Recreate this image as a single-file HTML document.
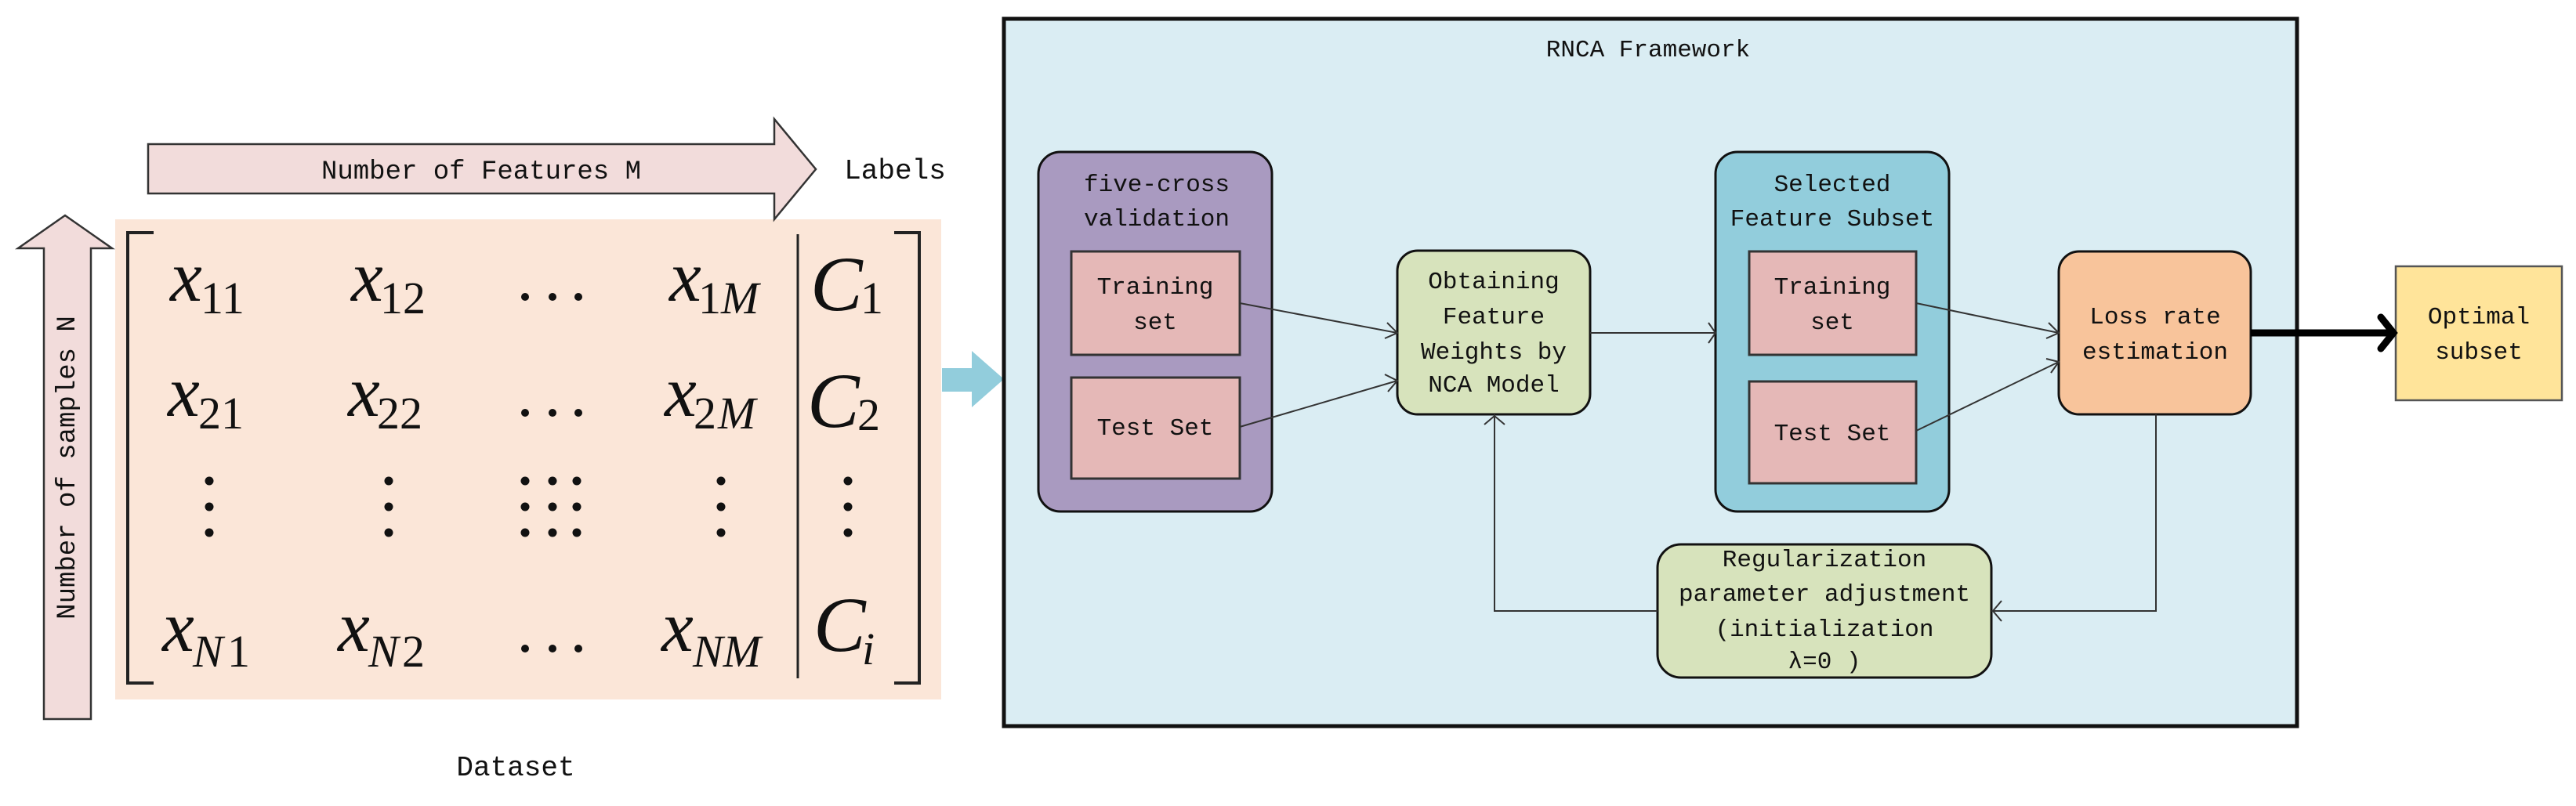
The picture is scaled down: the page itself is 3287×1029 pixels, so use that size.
<!DOCTYPE html>
<html><head><meta charset="utf-8"><style>
html,body{margin:0;padding:0;background:#fff;}
svg{display:block;}
.t{font-family:"Liberation Mono","DejaVu Sans Mono",monospace;fill:#111;}
.m{font-family:"Liberation Serif","DejaVu Serif",serif;font-style:italic;fill:#111;}
.r{font-family:"Liberation Serif","DejaVu Serif",serif;fill:#111;}
</style></head><body>
<svg width="3287" height="1029" viewBox="0 0 3287 1029" xmlns="http://www.w3.org/2000/svg">
<rect x="147" y="280" width="1054" height="613" fill="#FBE6D8"/>
<polygon points="189,184 988,184 988,152 1041,216 988,280 988,247 189,247" fill="#F2DCDB" stroke="#333" stroke-width="2.5"/>
<text class="t" x="614" y="228" font-size="34" text-anchor="middle">Number of Features M</text>
<text class="t" x="1142" y="228" font-size="36" text-anchor="middle">Labels</text>
<polygon points="56,918 56,317 23,317 83,275 143,317 116,317 116,918" fill="#F2DCDB" stroke="#333" stroke-width="2.5"/>
<text class="t" transform="translate(95,597) rotate(-90)" font-size="34" text-anchor="middle">Number of samples N</text>
<text class="t" x="658" y="990" font-size="36" text-anchor="middle">Dataset</text>
<polyline points="196,297 163,297 163,872 196,872" fill="none" stroke="#222" stroke-width="4"/>
<polyline points="1141,297 1173,297 1173,872 1141,872" fill="none" stroke="#222" stroke-width="4"/>
<line x1="1018" y1="299" x2="1018" y2="866" stroke="#222" stroke-width="3"/>
<!-- row 1 -->
<text class="m" x="217" y="384" font-size="92">x</text><text class="r" x="256" y="400" font-size="58">11</text>
<text class="m" x="448" y="384" font-size="92">x</text><text class="r" x="485" y="400" font-size="58">12</text>
<text class="m" x="854" y="384" font-size="92">x</text><text class="r" x="891" y="400" font-size="58">1</text><text class="m" x="920" y="400" font-size="58">M</text>
<text class="m" x="1034" y="396" font-size="100">C</text><text class="r" x="1098" y="400" font-size="58">1</text>
<!-- row 2 -->
<text class="m" x="214" y="531" font-size="92">x</text><text class="r" x="253" y="547" font-size="58">21</text>
<text class="m" x="444" y="531" font-size="92">x</text><text class="r" x="481" y="547" font-size="58">22</text>
<text class="m" x="848" y="531" font-size="92">x</text><text class="r" x="885" y="547" font-size="58">2</text><text class="m" x="916" y="547" font-size="58">M</text>
<text class="m" x="1030" y="545" font-size="100">C</text><text class="r" x="1094" y="549" font-size="58">2</text>
<!-- row N -->
<text class="m" x="207" y="831" font-size="92">x</text><text class="m" x="246" y="851" font-size="58">N</text><text class="r" x="290" y="851" font-size="58">1</text>
<text class="m" x="431" y="831" font-size="92">x</text><text class="m" x="470" y="851" font-size="58">N</text><text class="r" x="513" y="851" font-size="58">2</text>
<text class="m" x="844" y="831" font-size="92">x</text><text class="m" x="884" y="851" font-size="58">NM</text>
<text class="m" x="1038" y="831" font-size="100">C</text><text class="m" x="1100" y="848" font-size="58">i</text>
<g fill="#111">
<circle cx="670" cy="379" r="5"/><circle cx="705" cy="379" r="5"/><circle cx="738" cy="379" r="5"/>
<circle cx="670" cy="527" r="5"/><circle cx="705" cy="527" r="5"/><circle cx="738" cy="527" r="5"/>
<circle cx="670" cy="828" r="5"/><circle cx="705" cy="828" r="5"/><circle cx="738" cy="828" r="5"/>
<circle cx="267" cy="614" r="5.5"/><circle cx="267" cy="647" r="5.5"/><circle cx="267" cy="680" r="5.5"/>
<circle cx="496" cy="614" r="5.5"/><circle cx="496" cy="647" r="5.5"/><circle cx="496" cy="680" r="5.5"/>
<circle cx="920" cy="614" r="5.5"/><circle cx="920" cy="647" r="5.5"/><circle cx="920" cy="680" r="5.5"/>
<circle cx="1082" cy="614" r="5.5"/><circle cx="1082" cy="647" r="5.5"/><circle cx="1082" cy="680" r="5.5"/>
<circle cx="670" cy="614" r="5.5"/><circle cx="705" cy="614" r="5.5"/><circle cx="736" cy="614" r="5.5"/>
<circle cx="670" cy="647" r="5.5"/><circle cx="705" cy="647" r="5.5"/><circle cx="736" cy="647" r="5.5"/>
<circle cx="670" cy="680" r="5.5"/><circle cx="705" cy="680" r="5.5"/><circle cx="736" cy="680" r="5.5"/>
</g>
<polygon points="1202,470 1240,470 1240,448 1281,484 1240,520 1240,500 1202,500" fill="#92CDDC"/>
<rect x="1281" y="24" width="1650" height="903" fill="#DAEDF3" stroke="#111" stroke-width="5"/>
<text class="t" x="2103" y="72" font-size="31" text-anchor="middle">RNCA Framework</text>
<rect x="1325" y="194" width="298" height="459" rx="28" fill="#A99AC0" stroke="#111" stroke-width="3"/>
<text class="t" x="1476" y="244" font-size="31" text-anchor="middle">five-cross</text>
<text class="t" x="1476" y="288" font-size="31" text-anchor="middle">validation</text>
<rect x="1367" y="321" width="215" height="132" fill="#E5B8B7" stroke="#333" stroke-width="3"/>
<text class="t" x="1474" y="375" font-size="31" text-anchor="middle">Training</text>
<text class="t" x="1474" y="420" font-size="31" text-anchor="middle">set</text>
<rect x="1367" y="482" width="215" height="129" fill="#E5B8B7" stroke="#333" stroke-width="3"/>
<text class="t" x="1474" y="555" font-size="31" text-anchor="middle">Test Set</text>
<rect x="1783" y="320" width="246" height="209" rx="26" fill="#D7E3BC" stroke="#111" stroke-width="3"/>
<text class="t" x="1906" y="368" font-size="31" text-anchor="middle">Obtaining</text>
<text class="t" x="1906" y="413" font-size="31" text-anchor="middle">Feature</text>
<text class="t" x="1906" y="458" font-size="31" text-anchor="middle">Weights by</text>
<text class="t" x="1906" y="500" font-size="31" text-anchor="middle">NCA Model</text>
<rect x="2189" y="194" width="298" height="459" rx="28" fill="#92CDDC" stroke="#111" stroke-width="3"/>
<text class="t" x="2338" y="244" font-size="31" text-anchor="middle">Selected</text>
<text class="t" x="2338" y="288" font-size="31" text-anchor="middle">Feature Subset</text>
<rect x="2232" y="321" width="213" height="132" fill="#E5B8B7" stroke="#333" stroke-width="3"/>
<text class="t" x="2338" y="375" font-size="31" text-anchor="middle">Training</text>
<text class="t" x="2338" y="420" font-size="31" text-anchor="middle">set</text>
<rect x="2232" y="487" width="213" height="130" fill="#E5B8B7" stroke="#333" stroke-width="3"/>
<text class="t" x="2338" y="562" font-size="31" text-anchor="middle">Test Set</text>
<rect x="2627" y="321" width="245" height="208" rx="26" fill="#F8C49B" stroke="#111" stroke-width="3"/>
<text class="t" x="2750" y="413" font-size="31" text-anchor="middle">Loss rate</text>
<text class="t" x="2750" y="458" font-size="31" text-anchor="middle">estimation</text>
<rect x="3057" y="340" width="212" height="171" fill="#FFE49A" stroke="#555" stroke-width="2.5"/>
<text class="t" x="3163" y="413" font-size="31" text-anchor="middle">Optimal</text>
<text class="t" x="3163" y="458" font-size="31" text-anchor="middle">subset</text>
<rect x="2115" y="695" width="426" height="170" rx="30" fill="#D7E3BC" stroke="#111" stroke-width="3"/>
<text class="t" x="2328" y="723" font-size="31" text-anchor="middle">Regularization</text>
<text class="t" x="2328" y="767" font-size="31" text-anchor="middle">parameter adjustment</text>
<text class="t" x="2328" y="812" font-size="31" text-anchor="middle">(initialization</text>
<text class="t" x="2328" y="853" font-size="31" text-anchor="middle">λ=0 )</text>
<g stroke="#333" stroke-width="2" fill="none">
<line x1="1582" y1="387" x2="1783" y2="425"/>
<polyline points="1770,412 1783,425 1767,432"/>
<line x1="1582" y1="545" x2="1783" y2="486"/>
<polyline points="1767,478 1783,486 1771,500"/>
<line x1="2029" y1="425" x2="2189" y2="425"/>
<polyline points="2180,412 2189,425 2180,438"/>
<line x1="2445" y1="387" x2="2627" y2="425"/>
<polyline points="2614,412 2627,425 2611,432"/>
<line x1="2445" y1="550" x2="2627" y2="462"/>
<polyline points="2611,458 2627,462 2617,476"/>
<polyline points="2751,529 2751,780 2541,780"/>
<polyline points="2554,767 2543,780 2554,793"/>
<polyline points="2115,780 1907,780 1907,529"/>
<polyline points="1894,542 1907,531 1920,542"/>
</g>
<line x1="2872" y1="425" x2="3052" y2="425" stroke="#000" stroke-width="9"/>
<polyline points="3038,405 3054,425 3038,445" fill="none" stroke="#000" stroke-width="9" stroke-linecap="round"/>
</svg>
</body></html>
